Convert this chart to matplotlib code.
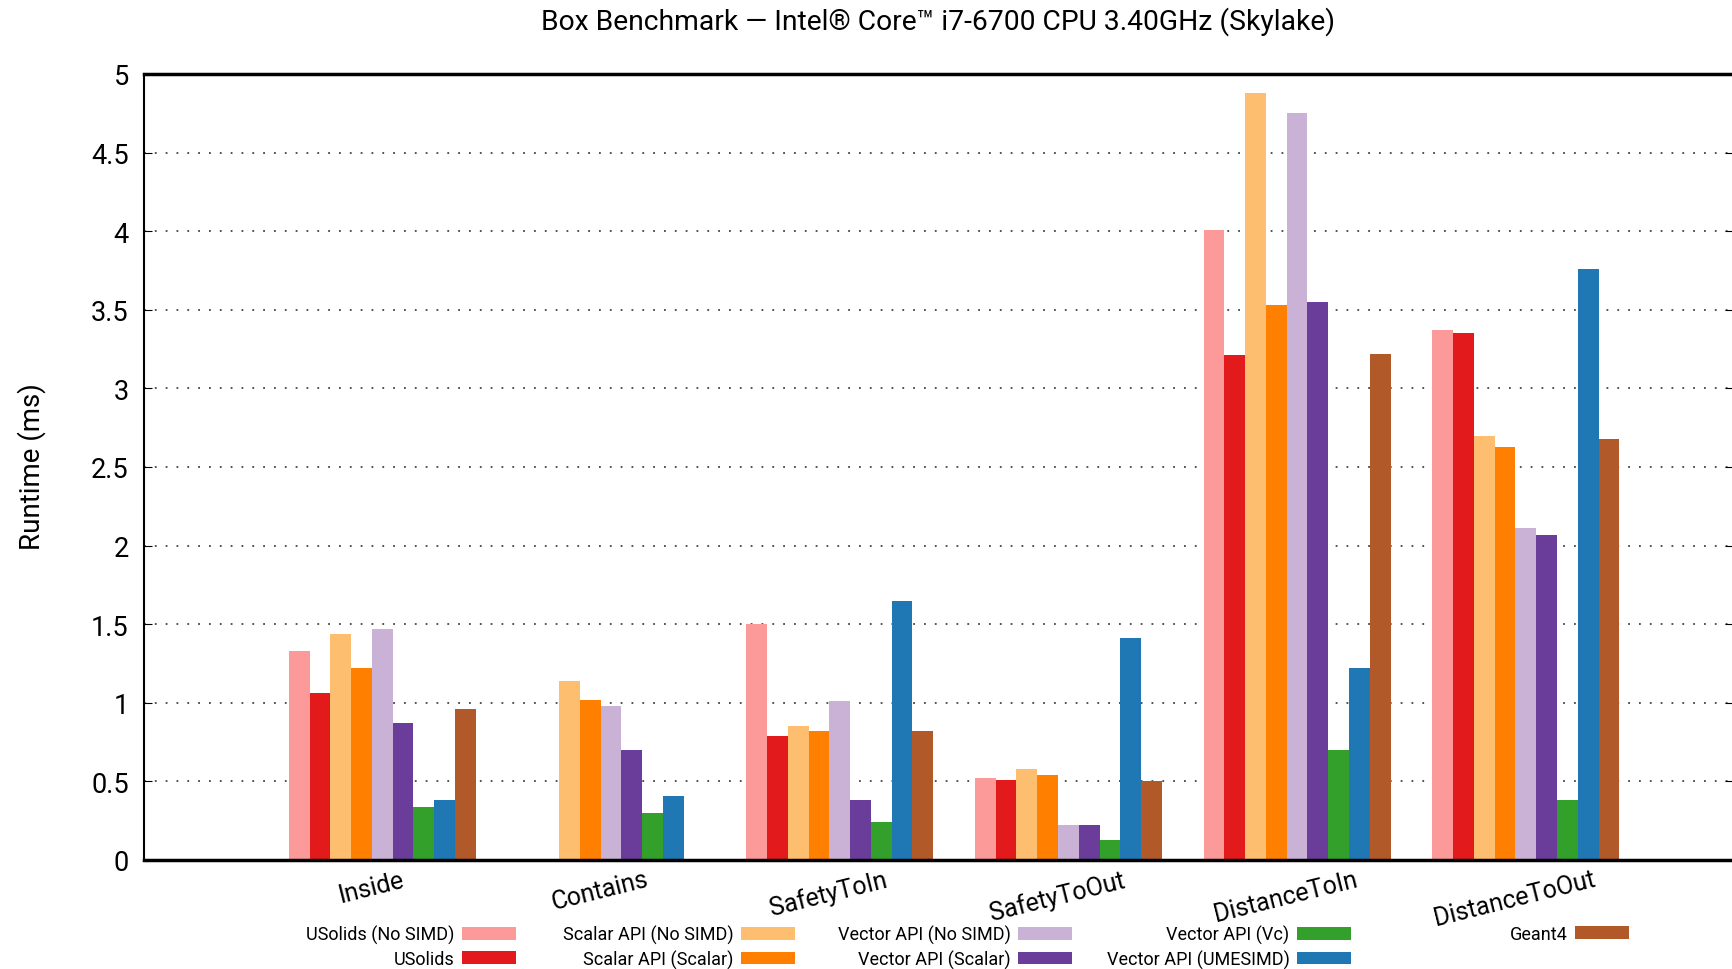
import numpy as np
import matplotlib
matplotlib.use("Agg")
import matplotlib.pyplot as plt
from matplotlib.patches import Patch

plt.rcParams['font.family'] = ['Roboto', 'DejaVu Sans']

categories = ["Inside", "Contains", "SafetyToIn", "SafetyToOut", "DistanceToIn", "DistanceToOut"]

# runtime in ms, nan = not measured
usolids_nosimd = [1.33, np.nan, 1.50, 0.52, 4.01, 3.37]
usolids = [1.06, np.nan, 0.79, 0.51, 3.21, 3.35]
scalar_nosimd = [1.44, 1.14, 0.85, 0.58, 4.88, 2.70]
scalar_scalar = [1.22, 1.02, 0.82, 0.54, 3.53, 2.63]
vector_nosimd = [1.47, 0.98, 1.01, 0.22, 4.75, 2.11]
vector_scalar = [0.87, 0.70, 0.38, 0.22, 3.55, 2.07]
vector_vc = [0.34, 0.30, 0.24, 0.13, 0.70, 0.38]
vector_umesimd = [0.38, 0.41, 1.65, 1.41, 1.22, 3.76]
geant4 = [0.96, np.nan, 0.82, 0.50, 3.22, 2.68]

series = [
    ("USolids (No SIMD)", usolids_nosimd, "#fb9a99"),
    ("USolids", usolids, "#e31a1c"),
    ("Scalar API (No SIMD)", scalar_nosimd, "#fdbf6f"),
    ("Scalar API (Scalar)", scalar_scalar, "#ff7f00"),
    ("Vector API (No SIMD)", vector_nosimd, "#cab2d6"),
    ("Vector API (Scalar)", vector_scalar, "#6a3d9a"),
    ("Vector API (Vc)", vector_vc, "#33a02c"),
    ("Vector API (UMESIMD)", vector_umesimd, "#1f78b4"),
    ("Geant4", geant4, "#b15928"),
]

W, H = 1733, 970
fig = plt.figure(figsize=(W / 100, H / 100), dpi=100)
ax = fig.add_axes([144 / W, 1 - 861 / H, (W - 144) / W, (861 - 75) / H])

x = np.arange(len(categories))
slot = 1 / 11  # 9 bars + gap of 2
for j, (name, vals, col) in enumerate(series):
    ax.bar(x + (j - 4) * slot, vals, width=slot, color=col, linewidth=0, zorder=2)

ax.set_xlim(-1.042, 5.906)
ax.set_ylim(0, 5)
ax.set_yticks(np.arange(0, 5.01, 0.5))
ax.yaxis.set_major_formatter(matplotlib.ticker.StrMethodFormatter("{x:g}"))
ax.grid(axis="y", linestyle=(0, (1, 5)), color="#444444", linewidth=1.3, zorder=1)
ax.set_axisbelow(True)

# rotated labels sit a little left of the group centre
ax.set_xticks(x - 0.048)
ax.set_xticklabels(categories, rotation=14, ha="center", fontsize=18)
ax.tick_params(axis="x", length=0, pad=5)
ax.tick_params(axis="y", direction="in", length=6, labelsize=19.5, pad=11, right=True)

ax.spines["top"].set_linewidth(2.5)
ax.spines["bottom"].set_linewidth(2.5)
ax.spines["left"].set_linewidth(1.5)
ax.spines["right"].set_visible(False)

ax.set_title("Box Benchmark \u2014 Intel\u00ae Core\u2122 i7-6700 CPU 3.40GHz (Skylake)",
             fontsize=20.3, pad=33)
fig.text(32 / W, 1 - 467 / H, "Runtime (ms)", rotation=90, ha="center", va="center", fontsize=20)

# legend: one block per column, label left of swatch
handles = [Patch(facecolor=c, edgecolor="none") for _, _, c in series]
names = [n for n, _, _ in series]
col_right = [516, 795, 1072, 1351, 1629]
for k, xr in enumerate(col_right):
    idx = [i for i in (2 * k, 2 * k + 1) if i < len(series)]
    fig.legend([handles[i] for i in idx], [names[i] for i in idx],
               loc="upper right", bbox_to_anchor=(xr / W, 1 - 926 / H),
               frameon=False, markerfirst=False, fontsize=13,
               handlelength=3.0, handleheight=0.7, handletextpad=0.4,
               labelspacing=0.3, borderpad=0, borderaxespad=0)

fig.savefig("out.png", dpi=100)
